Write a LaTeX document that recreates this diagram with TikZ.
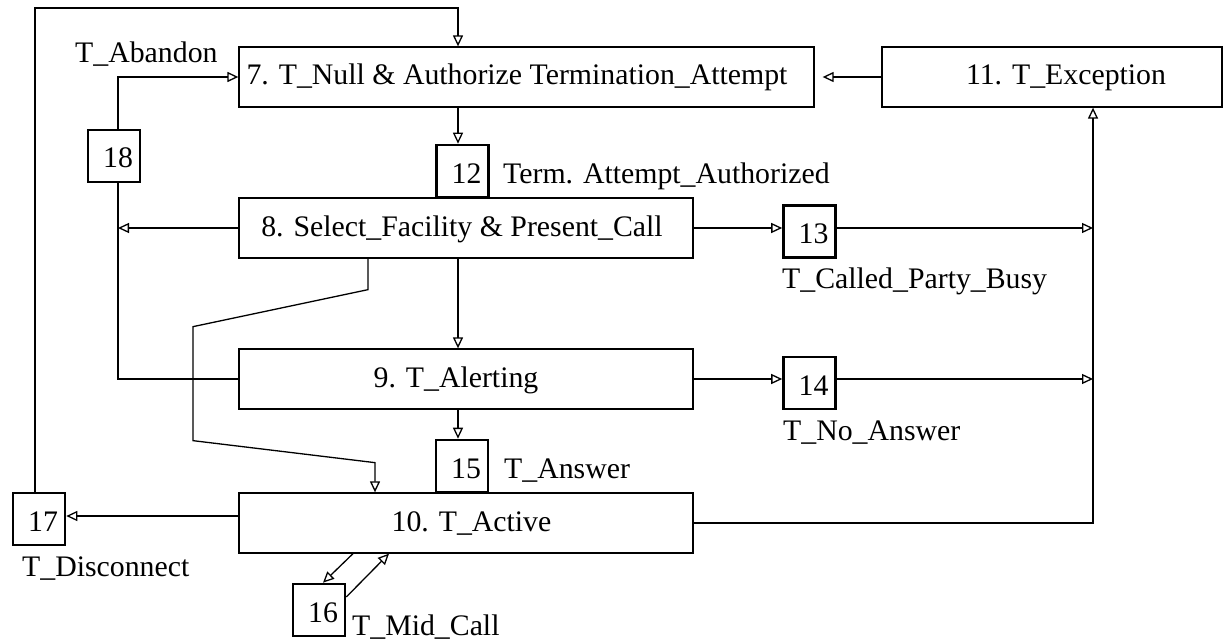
\documentclass[tikz,border=0pt]{standalone}
\usepackage{fontspec}
\setmainfont{Liberation Serif}
\usetikzlibrary{arrows.meta}

\begin{document}
\begin{tikzpicture}[x=1pt,y=-1pt,
  font=\fontsize{29.8}{32}\selectfont,
  state/.style={draw, line width=1.3pt, minimum height=60pt, inner sep=0pt,
                text height=20pt, text depth=4pt},
  evt/.style={draw, line width=2.6pt, minimum width=52pt, minimum height=52pt,
              inner sep=0pt, text height=24pt, text depth=0pt},
  conn/.style={line width=1.3pt},
  arr/.style={conn, -{Triangle[open, length=11pt, width=10pt, line width=1.3pt]}},
  lbl/.style={anchor=base west, inner sep=0pt}]

\useasboundingbox (0,0) rectangle (1228,639);

% call states
\node[state, minimum width=575pt] (b7)  at (526.5,77) {7. T\_Null \& Authorize Termination\_Attempt\hspace*{19pt}};
\node[state, minimum width=340pt] (b11) at (1052,77)  {\hspace*{28pt}11. T\_Exception};
\node[state, minimum width=454pt] (b8)  at (466,228)  {8. Select\_Facility \& Present\_Call\hspace*{8pt}};
\node[state, minimum width=454pt] (b9)  at (466,379)  {9. T\_Alerting\hspace*{20pt}};
\node[state, minimum width=454pt] (b10) at (466,523)  {\hspace*{11pt}10. T\_Active};

% detection points
\node[evt] (s12) at (462.5,171) {\hspace*{8pt}12};
\node[evt] (s13) at (809.5,231.5) {\hspace*{8pt}13};
\node[evt] (s14) at (809.5,383) {\hspace*{8pt}14};
\node[evt] (s15) at (462,466) {\hspace*{8pt}15};
\node[evt] (s16) at (319,610) {\hspace*{8pt}16};
\node[evt] (s17) at (39,519) {\hspace*{8pt}17};
\node[evt] (s18) at (114,156) {\hspace*{8pt}18};

% event labels
\node[lbl] (l12) at (503,184) {Term. Attempt\_Authorized};
\node[lbl] (l13) at (782,288) {T\_Called\_Party\_Busy};
\node[lbl] (l14) at (783,440) {T\_No\_Answer};
\node[lbl] (l15) at (504,478) {T\_Answer};
\node[lbl] (l16) at (352,635) {T\_Mid\_Call};
\node[lbl] (l17) at (22,576) {T\_Disconnect};
\node[lbl] (l18) at (75,63) {T\_Abandon};

% helper points
\coordinate (c12) at ([xshift=-4.5pt]s12.north);
\coordinate (c15) at ([xshift=-4pt]s15.north);
\coordinate (c18t) at ([xshift=4pt]s18.north);
\coordinate (c18b) at ([xshift=4pt]s18.south);
\coordinate (c17) at ([xshift=-4pt]s17.north);
\coordinate (ex) at ([xshift=41pt]b11.south);
\coordinate (d10) at ([yshift=7pt]b10.west);
\coordinate (loop) at (458,8);

% transitions
\draw[arr] (c17) |- (loop) -- (loop |- b7.north);
\draw[arr] (c18t) |- (b7.west);
\draw[arr] (b11.west) -- ([xshift=8pt]b7.east);
\draw[arr] (c12 |- b7.south) -- (c12);
\draw[arr] (b8.west) -- (b8.west -| c18b);
\draw[conn] (b9.west) -| (c18b);
\draw[arr] (c15 |- b8.south) -- (c15 |- b9.north);
\draw[arr] (c15 |- b9.south) -- (c15);
\draw[arr] ([xshift=-98pt]b8.south) -- ++(0,31) -- ++(-175,37) -- ++(0,114)
           -- ++(182,22) -- ([xshift=-91pt]b10.north);
\draw[arr] (b8.east) -- (b8.east -| s13.west);
\draw[arr] (b8.east -| s13.east) -- (b8.east -| ex);
\draw[arr] (b9.east) -- (b9.east -| s14.west);
\draw[arr] (b9.east -| s14.east) -- (b9.east -| ex);
\draw[arr] (b10.east) -| (ex);
\draw[arr] (d10) -- (d10 -| s17.east);
\draw[arr] ([xshift=-113pt]b10.south) -- ([xshift=4pt]s16.north);
\draw[arr] ([yshift=13pt]s16.east) -- ([xshift=-77pt]b10.south);

\end{tikzpicture}
\end{document}
